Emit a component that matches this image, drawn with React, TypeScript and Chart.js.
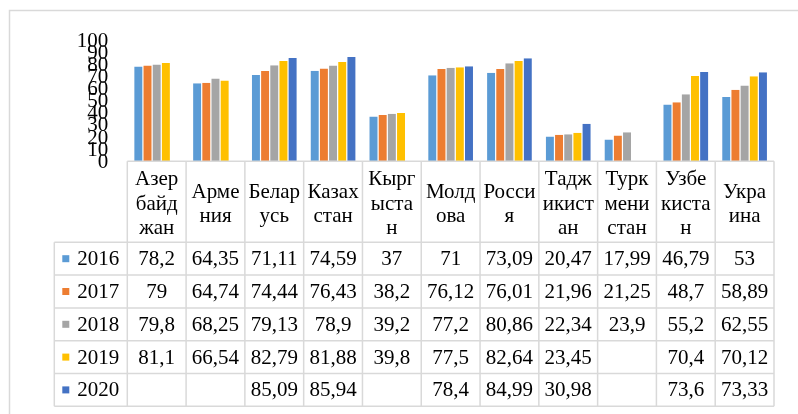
import React, { useEffect, useRef } from "react";
import { Chart, registerables } from "chart.js";

Chart.register(...registerables);

const categories: string[][] = [
  ["Азер", "байд", "жан"],
  ["Арме", "ния"],
  ["Белар", "усь"],
  ["Казах", "стан"],
  ["Кырг", "ыста", "н"],
  ["Молд", "ова"],
  ["Росси", "я"],
  ["Тадж", "икист", "ан"],
  ["Турк", "мени", "стан"],
  ["Узбе", "киста", "н"],
  ["Укра", "ина"],
];

const years = ["2016", "2017", "2018", "2019", "2020"];
const colors = ["#5B9BD5", "#ED7D31", "#A5A5A5", "#FFC000", "#4472C4"];

const v2016: (number | null)[] = [78.2, 64.35, 71.11, 74.59, 37, 71, 73.09, 20.47, 17.99, 46.79, 53];
const v2017: (number | null)[] = [79, 64.74, 74.44, 76.43, 38.2, 76.12, 76.01, 21.96, 21.25, 48.7, 58.89];
const v2018: (number | null)[] = [79.8, 68.25, 79.13, 78.9, 39.2, 77.2, 80.86, 22.34, 23.9, 55.2, 62.55];
const v2019: (number | null)[] = [81.1, 66.54, 82.79, 81.88, 39.8, 77.5, 82.64, 23.45, null, 70.4, 70.12];
const v2020: (number | null)[] = [null, null, 85.09, 85.94, null, 78.4, 84.99, 30.98, null, 73.6, 73.33];

const seriesValues = [v2016, v2017, v2018, v2019, v2020];
const yTicks = [0, 10, 20, 30, 40, 50, 60, 70, 80, 90, 100];

const FONT = '21px "Liberation Serif", "Times New Roman", serif';
const GRID = "#D9D9D9";

const tablePlugin = {
  id: "dataTable",
  afterDraw(chart: any) {
    const ctx: CanvasRenderingContext2D = chart.ctx;
    const area = chart.chartArea;
    const xs = chart.scales.x;
    const ys = chart.scales.y;
    const n = categories.length;
    const colW = (area.right - area.left) / n;
    const base = ys.getPixelForValue(0);
    const headerH = 81;
    const rowH = 32.8;
    const keyLeft = area.left - 73;
    const tableBottom = base + headerH + rowH * years.length;

    ctx.save();
    // outer frame
    ctx.strokeStyle = GRID;
    ctx.lineWidth = 1.5;
    ctx.strokeRect(9.5, 10.5, 1000, 1000);

    // y tick labels
    ctx.fillStyle = "#000";
    ctx.font = FONT;
    ctx.textAlign = "right";
    ctx.textBaseline = "middle";
    yTicks.forEach((t) => {
      ctx.fillText(String(t), area.left - 19, ys.getPixelForValue(t) + 1);
    });

    // grid
    ctx.strokeStyle = GRID;
    ctx.lineWidth = 1.5;
    ctx.beginPath();
    ctx.moveTo(area.left, base);
    ctx.lineTo(area.right, base);
    for (let r = 0; r <= years.length; r++) {
      const yy = base + headerH + r * rowH;
      ctx.moveTo(keyLeft, yy);
      ctx.lineTo(area.right, yy);
    }
    for (let i = 0; i <= n; i++) {
      const xx = area.left + i * colW;
      ctx.moveTo(xx, base);
      ctx.lineTo(xx, tableBottom);
    }
    ctx.moveTo(keyLeft, base + headerH);
    ctx.lineTo(keyLeft, tableBottom);
    ctx.stroke();

    // header labels
    ctx.fillStyle = "#000";
    ctx.textAlign = "center";
    ctx.textBaseline = "middle";
    const lineH = 24.5;
    categories.forEach((lines, i) => {
      const cx = xs.getPixelForValue(i);
      const cy = base + 43;
      const start = cy - ((lines.length - 1) * lineH) / 2;
      lines.forEach((ln, j) => ctx.fillText(ln, cx, start + j * lineH));
    });

    // rows
    years.forEach((yr, r) => {
      const cy = base + headerH + r * rowH + rowH / 2;
      ctx.fillStyle = colors[r];
      ctx.fillRect(keyLeft + 8, cy - 3.5, 7, 7);
      ctx.fillStyle = "#000";
      ctx.textAlign = "left";
      ctx.fillText(yr, keyLeft + 23, cy + 1);
      ctx.textAlign = "center";
      seriesValues[r].forEach((v, i) => {
        if (v === null) return;
        ctx.fillText(String(v).replace(".", ","), xs.getPixelForValue(i), cy + 1);
      });
    });
    ctx.restore();
  },
};

export default function App() {
  const ref = useRef<HTMLCanvasElement>(null);
  useEffect(() => {
    document.body.style.margin = "0";
    const chart = new Chart(ref.current!, {
      type: "bar",
      data: {
        labels: categories.map((c) => c.join("")),
        datasets: years.map((yr, i) => ({
          label: yr,
          data: seriesValues[i],
          backgroundColor: colors[i],
          borderColor: "rgba(255,255,255,0.7)",
          borderWidth: { left: 0.6, right: 0.6, top: 0, bottom: 0 } as any,
          categoryPercentage: 0.78,
          barPercentage: 1,
        })),
      },
      options: {
        animation: false,
        responsive: false,
        devicePixelRatio: 1,
        layout: { padding: { left: 127.3, right: 24, top: 40, bottom: 252.7 } },
        scales: {
          x: { display: false },
          y: { display: false, min: 0, max: 100 },
        },
        plugins: { legend: { display: false }, tooltip: { enabled: false } },
      },
      plugins: [tablePlugin],
    });
    return () => chart.destroy();
  }, []);
  return (
    <div style={{ position: "absolute", left: 0, top: 0, width: 798, height: 414, background: "#fff" }}>
      <canvas ref={ref} width={798} height={414} />
    </div>
  );
}
